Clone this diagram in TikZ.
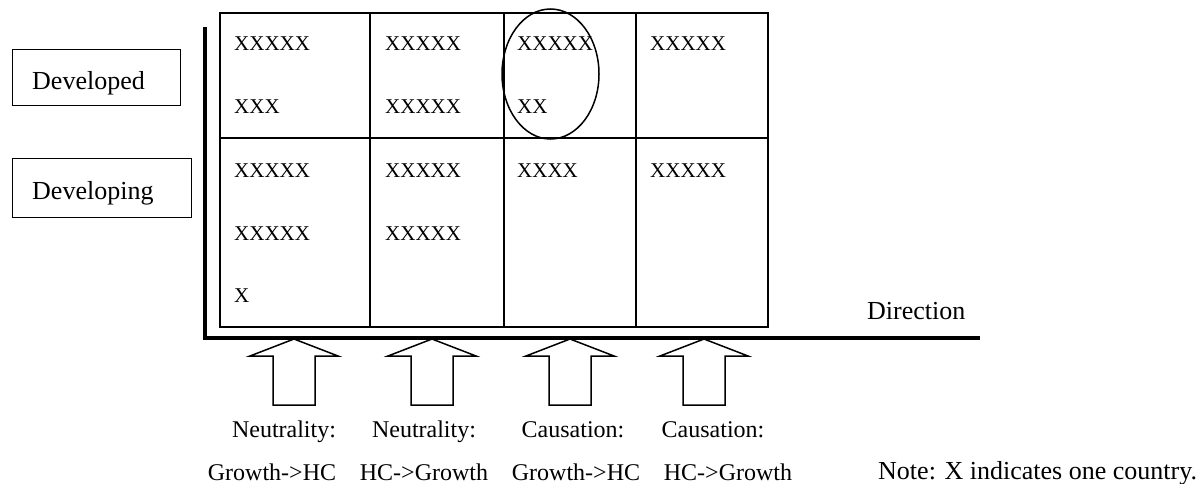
\documentclass[tikz,border=0pt]{standalone}
\usepackage{fontspec}
\setmainfont{Liberation Serif}
\begin{document}
\begin{tikzpicture}[x=1pt,y=-1pt,
  cell/.style={draw, line width=2pt, inner sep=0pt, anchor=north west},
  cx/.style={anchor=base west, inner sep=0pt, font=\fontsize{21}{24}\selectfont},
  lab/.style={anchor=base, inner sep=0pt, font=\fontsize{24}{28}\selectfont},
  big/.style={anchor=base west, inner sep=0pt, font=\fontsize{26}{30}\selectfont},
  catbox/.style={draw, line width=1.3pt, inner sep=0pt, anchor=north west},
  axisline/.style={line width=3.5pt},
  blockarrow/.pic={\draw[line width=1.5pt, line join=miter]
     (0,0) -- (44,17) -- (21,17) -- (21,66) -- (-21,66) -- (-21,17) -- (-44,17) -- cycle;}
]
\useasboundingbox (0,0) rectangle (1202,484);

% category boxes
\node[catbox, minimum width=168pt, minimum height=56pt] (devbox) at (12,49) {};
\node[catbox, minimum width=179pt, minimum height=59pt] (dvgbox) at (12,158) {};
\node[big] (devtxt) at (32,90) {Developed};
\node[big] (dvgtxt) at (32,199) {Developing};

% grid cells
\node[cell, minimum width=150pt, minimum height=125pt] (c11) at (219,12) {};
\node[cell, minimum width=134pt, minimum height=125pt] (c12) at (369,12) {};
\node[cell, minimum width=132pt, minimum height=125pt] (c13) at (503,12) {};
\node[cell, minimum width=132pt, minimum height=125pt] (c14) at (635,12) {};
\node[cell, minimum width=150pt, minimum height=189pt] (c21) at (219,137) {};
\node[cell, minimum width=134pt, minimum height=189pt] (c22) at (369,137) {};
\node[cell, minimum width=132pt, minimum height=189pt] (c23) at (503,137) {};
\node[cell, minimum width=132pt, minimum height=189pt] (c24) at (635,137) {};

% cell contents
\node[cx] (t11a) at (234,51) {XXXXX};
\node[cx] (t11b) at (234,113.5) {XXX};
\node[cx] (t12a) at (385,51) {XXXXX};
\node[cx] (t12b) at (385,113.5) {XXXXX};
\node[cx] (t13a) at (517,51) {XXXXX};
\node[cx] (t13b) at (517,113.5) {XX};
\node[cx] (t14a) at (650,51) {XXXXX};
\node[cx] (t21a) at (234,177) {XXXXX};
\node[cx] (t21b) at (234,240) {XXXXX};
\node[cx] (t21c) at (234,302) {X};
\node[cx] (t22a) at (385,177) {XXXXX};
\node[cx] (t22b) at (385,240) {XXXXX};
\node[cx] (t23a) at (517,177) {XXXX};
\node[cx] (t24a) at (650,177) {XXXXX};

% ellipse highlight
\draw[line width=1.5pt] (550.5,74) ellipse [x radius=48.5, y radius=65];

% axes
\coordinate (ytop) at (205,27);
\coordinate (origin) at (205,338);
\coordinate (xend) at (980,338);
\draw[axisline] (ytop) -- (origin) -- (xend);
\node[big] (dir) at (867,319) {Direction};

% block arrows
\pic at (294,339) {blockarrow};
\pic at (432,339) {blockarrow};
\pic at (570,339) {blockarrow};
\pic at (704,339) {blockarrow};

% arrow labels
\node[lab] (l1a) at (284,437) {Neutrality:};
\node[lab] (l1b) at (272,480) {Growth->HC};
\node[lab] (l2a) at (424,437) {Neutrality:};
\node[lab] (l2b) at (424,480) {HC->Growth};
\node[lab] (l3a) at (573,437) {Causation:};
\node[lab] (l3b) at (576,480) {Growth->HC};
\node[lab] (l4a) at (713,437) {Causation:};
\node[lab] (l4b) at (728,480) {HC->Growth};

\node[big] (note) at (878,479) {Note: X indicates one country.};
\end{tikzpicture}
\end{document}
